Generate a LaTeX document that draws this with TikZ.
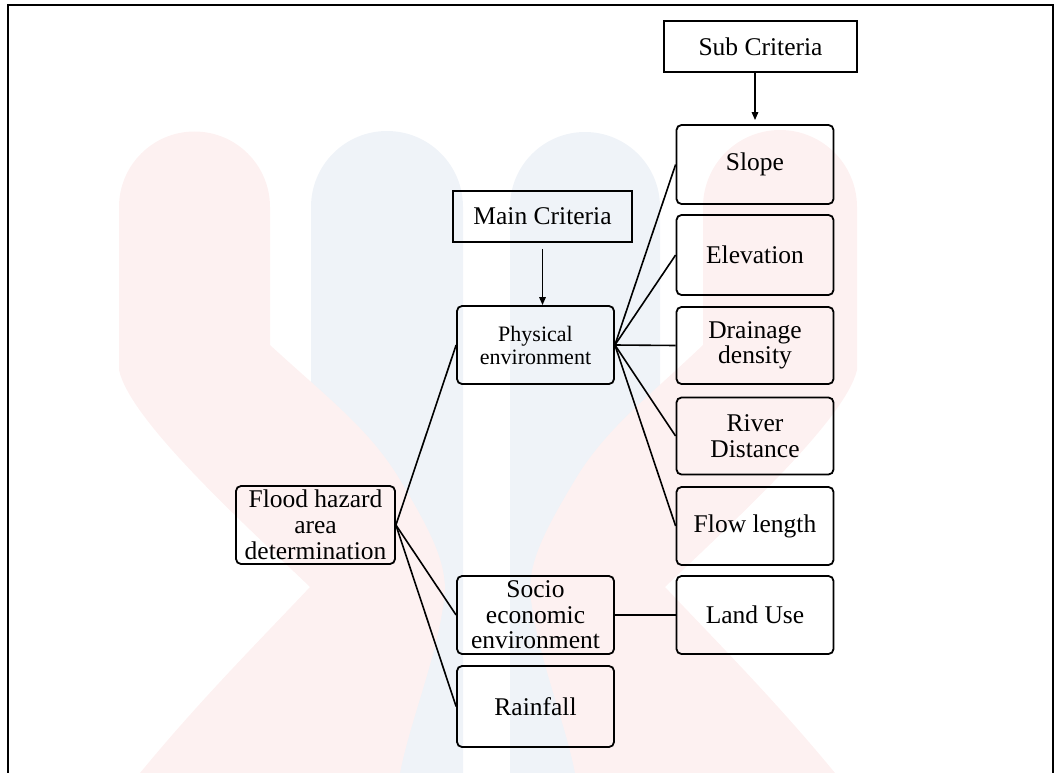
\documentclass[tikz,border=0pt]{standalone}
\usepackage{fontspec}
\setmainfont{Liberation Serif}
\usetikzlibrary{arrows.meta}
\definecolor{wmpink}{RGB}{253,241,241}
\definecolor{wmblue}{RGB}{239,243,248}
\begin{document}
\begin{tikzpicture}[x=1pt,y=-1pt,
  box/.style={draw, line width=1.8pt, rounded corners=5pt, minimum width=157pt, minimum height=78pt, inner sep=0pt, align=center, font=\fontsize{25.5}{25.5}\selectfont},
  head/.style={draw, line width=1.8pt, inner sep=0pt, align=center, minimum height=51pt, font=\fontsize{25.5}{25.5}\selectfont},
  link/.style={line width=1.6pt},
  arr/.style={line width=1.5pt, -{Triangle[length=8pt,width=6.5pt]}}]
\useasboundingbox (0,0) rectangle (1062,773);
% watermark
\fill[wmblue] (311,773) -- (311,207) arc[start angle=180,end angle=360,radius=76] -- (463,773) -- cycle;
\fill[wmblue] (510,773) -- (510,207) arc[start angle=180,end angle=360,radius=75] -- (660,773) -- cycle;
\fill[wmpink] (119,207) arc[start angle=180,end angle=360,radius=75.5] -- (270,345)
  .. controls (330,400) and (370,430) .. (400,480)
  .. controls (430,530) and (445,560) .. (445,590)
  .. controls (440,650) and (410,720) .. (400,773)
  -- (140,773)
  .. controls (200,700) and (260,640) .. (310,587)
  .. controls (240,520) and (130,420) .. (119,370) -- cycle;
\fill[wmpink] (857,207) arc[start angle=0,end angle=-180,radius=77] -- (703,345)
  .. controls (645,400) and (605,430) .. (575,480)
  .. controls (545,530) and (530,560) .. (530,590)
  .. controls (535,650) and (565,720) .. (575,773)
  -- (835,773)
  .. controls (775,700) and (715,640) .. (665,587)
  .. controls (735,520) and (845,420) .. (857,370) -- cycle;
% frame
\draw[line width=2.2pt] (8,773) -- (8,5) -- (1053,5) -- (1053,773);
% nodes
\node[head, minimum width=193pt] (sub) at (760.5,46.5) {Sub Criteria};
\node[head, minimum width=179pt] (main) at (542.5,216.5) {Main Criteria};
\node[box, minimum height=79pt] (slope) at (755,164.5) {Slope};
\node[box, minimum height=80pt] (elev) at (755,255) {Elevation};
\node[box, minimum height=77pt] (drain) at (755,345.5) {Drainage\\density};
\node[box, minimum height=77pt] (river) at (755,436) {River\\Distance};
\node[box, minimum height=78pt] (flow) at (755,526) {Flow length};
\node[box, minimum height=78pt] (land) at (755,615) {Land Use};
\node[box, font=\fontsize{22}{23}\selectfont] (phys) at (535.5,345) {Physical\\environment};
\node[box] (socio) at (535.5,615) {Socio\\economic\\environment};
\node[box, minimum height=81pt] (rain) at (535.5,706.5) {Rainfall};
\node[box, minimum width=159pt, font=\fontsize{25.5}{26}\selectfont] (flood) at (315.5,525) {Flood hazard\\area\\determination};
% connectors
\draw[arr, shorten >=4pt] (sub.south -| slope.north) -- (slope.north);
\draw[arr, shorten <=6pt] (main.south) -- (main.south |- phys.north);
\draw[link] (flood.east) -- (phys.west);
\draw[link] (flood.east) -- (socio.west);
\draw[link] (flood.east) -- (rain.west);
\draw[link] (phys.east) -- (slope.west);
\draw[link] (phys.east) -- (elev.west);
\draw[link] (phys.east) -- (drain.west);
\draw[link] (phys.east) -- (river.west);
\draw[link] (phys.east) -- (flow.west);
\draw[link] (socio.east) -- (land.west);
\end{tikzpicture}
\end{document}
